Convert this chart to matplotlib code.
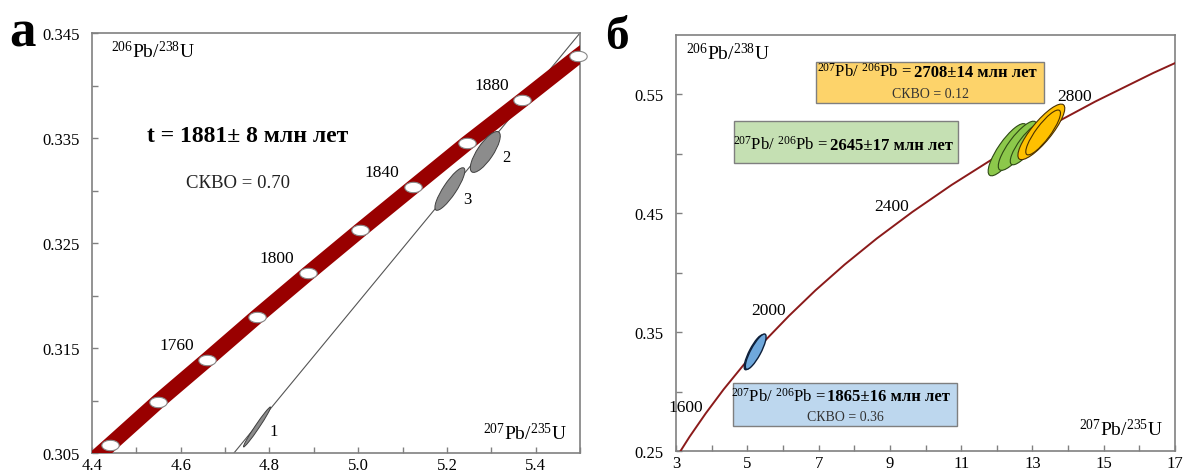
import numpy as np
import matplotlib
matplotlib.use("Agg")
import matplotlib.pyplot as plt
from matplotlib.patches import Ellipse, Rectangle
from matplotlib.path import Path
from matplotlib.transforms import Affine2D
from matplotlib.ticker import FixedLocator, FormatStrFormatter

plt.rcParams['font.family'] = ['Liberation Serif', 'DejaVu Serif']
plt.rcParams['mathtext.fontset'] = 'custom'
plt.rcParams['mathtext.rm'] = 'Liberation Serif'
plt.rcParams['mathtext.it'] = 'Liberation Serif:italic'
plt.rcParams['mathtext.bf'] = 'Liberation Serif:bold'

# ---- panel a: concordia band, ages in Ma
conc_a_age = [1700, 1720, 1740, 1760, 1780, 1800, 1820, 1840, 1860, 1880, 1900, 1920]
conc_a_x = [4.335, 4.441, 4.549, 4.660, 4.772, 4.887, 5.004, 5.123, 5.245, 5.370, 5.496, 5.625]
conc_a_y = [0.3018, 0.3058, 0.3099, 0.3139, 0.3180, 0.3221, 0.3262, 0.3303, 0.3345, 0.3386, 0.3428, 0.3470]
marker_ages_a = [1720, 1740, 1760, 1780, 1800, 1820, 1840, 1860, 1880, 1900]
label_ages_a = [1760, 1800, 1840, 1880]

discordia_x = [4.72, 5.5]
discordia_y = [0.305, 0.345]

# grains 1-3: centre, major half-axis, minor half-axis (data units)
grain_a = ['1', '2', '3']
grain_a_cx = [4.772, 5.2865, 5.2067]
grain_a_cy = [0.30748, 0.33367, 0.33014]
grain_a_ux = [0.0303, 0.0303, 0.0315]
grain_a_uy = [0.0019, 0.0019, 0.0020]
grain_a_vx = [0.0040, 0.0149, 0.0121]
grain_a_vy = [-0.0001, -0.00043, -0.00034]

xticks_a = [4.4, 4.6, 4.8, 5.0, 5.2, 5.4]
xminor_a = [4.5, 4.7, 4.9, 5.1, 5.3, 5.5]
yticks_a = [0.305, 0.315, 0.325, 0.335, 0.345]
yminor_a = [0.310, 0.320, 0.330, 0.340]

# ---- panel b: concordia curve
conc_b_age = [1400, 1500, 1600, 1700, 1800, 1900, 2000, 2100, 2200, 2300, 2400,
              2500, 2600, 2700, 2800, 2900, 3000]
conc_b_x = [2.970, 3.381, 3.835, 4.335, 4.887, 5.496, 6.169, 6.910, 7.729, 8.633, 9.630,
            10.730, 11.944, 13.283, 14.762, 16.393, 18.193]
conc_b_y = [0.2426, 0.2620, 0.2817, 0.3018, 0.3221, 0.3428, 0.3637, 0.3851, 0.4068, 0.4288, 0.4511,
            0.4738, 0.4968, 0.5202, 0.5440, 0.5681, 0.5926]
label_ages_b = [1600, 2000, 2400, 2800]

green_cx = [12.30, 12.58, 12.84]
green_cy = [0.5035, 0.5068, 0.5084]
green_ux = [0.50, 0.50, 0.43]
green_uy = [0.0215, 0.0202, 0.0172]
green_vx = [0.21, 0.20, 0.17]
green_vy = [-0.0045, -0.0044, -0.0038]

orange_cx = [13.25, 13.30]
orange_cy = [0.5185, 0.5180]
orange_ux = [0.62, 0.46]
orange_uy = [0.0228, 0.0185]
orange_vx = [0.22, 0.16]
orange_vy = [-0.0052, -0.0038]

blue_cx = [5.19, 5.236]
blue_cy = [0.3330, 0.3336]
blue_ux = [0.25, 0.264]
blue_uy = [0.0145, 0.0147]
blue_vx = [0.12, 0.125]
blue_vy = [-0.0020, -0.0021]

xticks_b = [3, 5, 7, 9, 11, 13, 15, 17]
xminor_b = [4, 6, 8, 10, 12, 14, 16]
yticks_b = [0.25, 0.35, 0.45, 0.55]
yminor_b = [0.30, 0.40, 0.50]

ISO_Y = r'$^{\mathrm{206}}$Pb/$^{\mathrm{238}}$U'
ISO_X = r'$^{\mathrm{207}}$Pb/$^{\mathrm{235}}$U'
PBPB = r'$^{\mathrm{207}}$Pb/ $^{\mathrm{206}}$Pb ='

SPINE = '#808080'


def draw_ellipse(ax, cx, cy, ux, uy, vx, vy, **kw):
    tr = Affine2D(np.array([[ux, vx, cx], [uy, vy, cy], [0, 0, 1]])) + ax.transData
    ax.add_patch(Ellipse((0, 0), 2, 2, transform=tr, **kw))


def style_axes(ax, xt, xm, yt, ym, xfmt, yfmt):
    for s in ax.spines.values():
        s.set_color(SPINE)
        s.set_linewidth(1.2)
    ax.xaxis.set_major_locator(FixedLocator(xt))
    ax.xaxis.set_minor_locator(FixedLocator(xm))
    ax.yaxis.set_major_locator(FixedLocator(yt))
    ax.yaxis.set_minor_locator(FixedLocator(ym))
    ax.xaxis.set_major_formatter(FormatStrFormatter(xfmt))
    ax.yaxis.set_major_formatter(FormatStrFormatter(yfmt))
    ax.tick_params(which='both', direction='in', length=4, width=1, color=SPINE,
                   labelsize=12, top=False, right=False)
    ax.tick_params(axis='x', pad=3)
    ax.tick_params(axis='y', pad=9)


# oval marker for concordia ages
theta = np.linspace(0, 2 * np.pi, 60)
oval = Path(np.column_stack([np.cos(theta), 0.6 * np.sin(theta)]), closed=True)

fig = plt.figure(figsize=(11.85, 4.77), dpi=100)

# ================= panel a
ax1 = fig.add_axes([92 / 1185, 23 / 477, 488 / 1185, 420 / 477])
ax1.set_xlim(4.4, 5.5)
ax1.set_ylim(0.305, 0.345)

ax1.plot(discordia_x, discordia_y, color='#555555', lw=0.8, zorder=2)
ax1.plot(conc_a_x, conc_a_y, color='#990000', lw=11, solid_capstyle='butt', zorder=3)

mx = [conc_a_x[conc_a_age.index(a)] for a in marker_ages_a]
my = [conc_a_y[conc_a_age.index(a)] for a in marker_ages_a]
ax1.plot(mx, my, ls='none', marker=oval, markersize=12.5, markerfacecolor='white',
         markeredgecolor='#888888', markeredgewidth=0.8, zorder=4, clip_on=False)

for a in label_ages_a:
    i = conc_a_age.index(a)
    ax1.annotate(str(a), (conc_a_x[i], conc_a_y[i]), xytext=(-31, 15),
                 textcoords='offset pixels', ha='center', va='center', fontsize=12.5)

label_off = [(17, -4), (21, -5), (17, -10)]
for k in range(len(grain_a)):
    draw_ellipse(ax1, grain_a_cx[k], grain_a_cy[k], grain_a_ux[k], grain_a_uy[k],
                 grain_a_vx[k], grain_a_vy[k], facecolor='#8c8c8c', edgecolor='#404040',
                 lw=0.7, zorder=5)
    ax1.annotate(grain_a[k], (grain_a_cx[k], grain_a_cy[k]), xytext=label_off[k],
                 textcoords='offset pixels', ha='center', va='center', fontsize=12)

ax1.text(0.113, 0.755, 't = 1881± 8 млн лет', transform=ax1.transAxes, fontsize=17,
         fontweight='bold', va='center', ha='left')
ax1.text(0.193, 0.645, 'СКВО = 0.70', transform=ax1.transAxes, fontsize=13.5,
         va='center', ha='left', color='#222222')
ax1.text(0.039, 0.943, ISO_Y, transform=ax1.transAxes, fontsize=14, va='baseline')
ax1.text(0.973, 0.033, ISO_X, transform=ax1.transAxes, fontsize=14, va='baseline', ha='right')

style_axes(ax1, xticks_a, xminor_a, yticks_a, yminor_a, '%.1f', '%.3f')

# ================= panel b
ax2 = fig.add_axes([676 / 1185, 25 / 477, 499 / 1185, 416 / 477])
ax2.set_xlim(3, 17)
ax2.set_ylim(0.25, 0.60)

ax2.plot(conc_b_x, conc_b_y, color='#8b1a1a', lw=1.4, zorder=3)
for a in label_ages_b:
    i = conc_b_age.index(a)
    ax2.annotate(str(a), (conc_b_x[i], conc_b_y[i]), xytext=(-3, 2),
                 textcoords='offset pixels', ha='right', va='baseline', fontsize=12.5)

for k in range(len(blue_cx)):
    draw_ellipse(ax2, blue_cx[k], blue_cy[k], blue_ux[k], blue_uy[k], blue_vx[k], blue_vy[k],
                 facecolor='#6fa8dc', edgecolor='#0d1f3a', lw=1.0, zorder=5)
for k in range(len(green_cx)):
    draw_ellipse(ax2, green_cx[k], green_cy[k], green_ux[k], green_uy[k], green_vx[k], green_vy[k],
                 facecolor='#8cc84b', edgecolor='#2e4a14', lw=0.8, zorder=5)
for k in range(len(orange_cx)):
    draw_ellipse(ax2, orange_cx[k], orange_cy[k], orange_ux[k], orange_uy[k], orange_vx[k],
                 orange_vy[k], facecolor='#ffc000', edgecolor='#4a3000', lw=0.8, zorder=6)

# result boxes
boxes = [
    ((6.94, 0.5424), 6.39, 0.0353, '#fdd36a', 9.62, 0.5655, '2708±14 млн лет', 0.5478, 'СКВО = 0.12'),
    ((4.64, 0.4920), 6.28, 0.0353, '#c5e0b3', 7.26, 0.5045, '2645±17 млн лет', None, None),
    ((4.61, 0.2710), 6.28, 0.0361, '#bdd7ee', 7.20, 0.2925, '1865±16 млн лет', 0.2760, 'СКВО = 0.36'),
]
for (xy, w, h, fc, xs, y1, bold, y2, sk) in boxes:
    ax2.add_patch(Rectangle(xy, w, h, facecolor=fc, edgecolor='#7f7f7f', lw=1.0, zorder=7))
    ax2.text(xs, y1, PBPB, ha='right', va='baseline', fontsize=12, zorder=8)
    ax2.text(xs + 0.05, y1, bold, ha='left', va='baseline', fontsize=12,
             fontweight='bold', zorder=8)
    if sk:
        ax2.text(xy[0] + w / 2, y2, sk, ha='center', va='baseline', fontsize=10,
                 color='#333333', zorder=8)

ax2.text(0.02, 0.942, ISO_Y, transform=ax2.transAxes, fontsize=14, va='baseline')
ax2.text(0.976, 0.038, ISO_X, transform=ax2.transAxes, fontsize=14, va='baseline', ha='right')

style_axes(ax2, xticks_b, xminor_b, yticks_b, yminor_b, '%d', '%.2f')

fig.text(0.008, 0.902, 'а', fontsize=38, fontweight='bold', va='baseline')
fig.text(0.511, 0.898, 'б', fontsize=34, fontweight='bold', va='baseline')

fig.savefig('out.png', dpi=100)
